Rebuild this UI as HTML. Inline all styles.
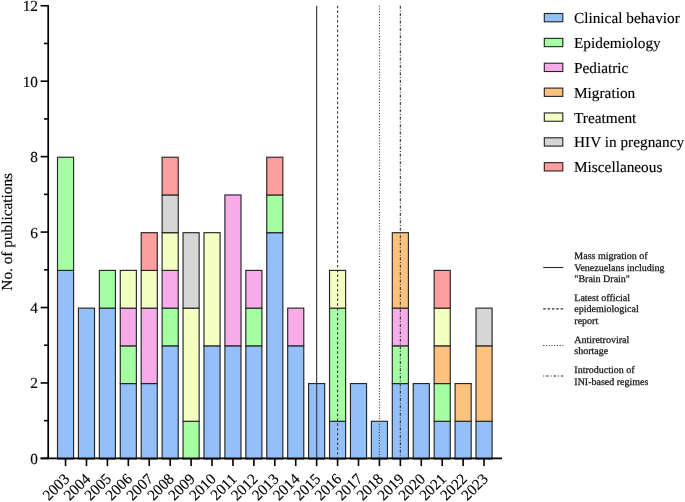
<!DOCTYPE html>
<html><head><meta charset="utf-8"><style>
html,body{margin:0;padding:0;background:#fff;width:685px;height:502px;overflow:hidden}
svg{display:block;will-change:transform}
.t15{font-family:"Liberation Serif",serif;font-size:15.3px;fill:#000;stroke:#000;stroke-width:0.15px}
text{text-rendering:geometricPrecision}
.t10{font-family:"Liberation Serif",serif;font-size:10px;fill:#111;stroke:#111;stroke-width:0.25px}
</style></head><body>
<svg width="685" height="502" viewBox="0 0 685 502">
<rect x="57.50" y="270.40" width="16.10" height="188.60" fill="#93C0F8" stroke="#262626" stroke-width="1.15"/>
<rect x="57.50" y="157.24" width="16.10" height="113.16" fill="#A6FEA3" stroke="#262626" stroke-width="1.15"/>
<rect x="78.42" y="308.12" width="16.10" height="150.88" fill="#93C0F8" stroke="#262626" stroke-width="1.15"/>
<rect x="99.35" y="308.12" width="16.10" height="150.88" fill="#93C0F8" stroke="#262626" stroke-width="1.15"/>
<rect x="99.35" y="270.40" width="16.10" height="37.72" fill="#A6FEA3" stroke="#262626" stroke-width="1.15"/>
<rect x="120.27" y="383.56" width="16.10" height="75.44" fill="#93C0F8" stroke="#262626" stroke-width="1.15"/>
<rect x="120.27" y="345.84" width="16.10" height="37.72" fill="#A6FEA3" stroke="#262626" stroke-width="1.15"/>
<rect x="120.27" y="308.12" width="16.10" height="37.72" fill="#F7ACE9" stroke="#262626" stroke-width="1.15"/>
<rect x="120.27" y="270.40" width="16.10" height="37.72" fill="#F4FFC2" stroke="#262626" stroke-width="1.15"/>
<rect x="141.20" y="383.56" width="16.10" height="75.44" fill="#93C0F8" stroke="#262626" stroke-width="1.15"/>
<rect x="141.20" y="308.12" width="16.10" height="75.44" fill="#F7ACE9" stroke="#262626" stroke-width="1.15"/>
<rect x="141.20" y="270.40" width="16.10" height="37.72" fill="#F4FFC2" stroke="#262626" stroke-width="1.15"/>
<rect x="141.20" y="232.68" width="16.10" height="37.72" fill="#FF9E9E" stroke="#262626" stroke-width="1.15"/>
<rect x="162.12" y="345.84" width="16.10" height="113.16" fill="#93C0F8" stroke="#262626" stroke-width="1.15"/>
<rect x="162.12" y="308.12" width="16.10" height="37.72" fill="#A6FEA3" stroke="#262626" stroke-width="1.15"/>
<rect x="162.12" y="270.40" width="16.10" height="37.72" fill="#F7ACE9" stroke="#262626" stroke-width="1.15"/>
<rect x="162.12" y="232.68" width="16.10" height="37.72" fill="#F4FFC2" stroke="#262626" stroke-width="1.15"/>
<rect x="162.12" y="194.96" width="16.10" height="37.72" fill="#D6D6D6" stroke="#262626" stroke-width="1.15"/>
<rect x="162.12" y="157.24" width="16.10" height="37.72" fill="#FF9E9E" stroke="#262626" stroke-width="1.15"/>
<rect x="183.05" y="421.28" width="16.10" height="37.72" fill="#A6FEA3" stroke="#262626" stroke-width="1.15"/>
<rect x="183.05" y="308.12" width="16.10" height="113.16" fill="#F4FFC2" stroke="#262626" stroke-width="1.15"/>
<rect x="183.05" y="232.68" width="16.10" height="75.44" fill="#D6D6D6" stroke="#262626" stroke-width="1.15"/>
<rect x="203.97" y="345.84" width="16.10" height="113.16" fill="#93C0F8" stroke="#262626" stroke-width="1.15"/>
<rect x="203.97" y="232.68" width="16.10" height="113.16" fill="#F4FFC2" stroke="#262626" stroke-width="1.15"/>
<rect x="224.90" y="345.84" width="16.10" height="113.16" fill="#93C0F8" stroke="#262626" stroke-width="1.15"/>
<rect x="224.90" y="194.96" width="16.10" height="150.88" fill="#F7ACE9" stroke="#262626" stroke-width="1.15"/>
<rect x="245.82" y="345.84" width="16.10" height="113.16" fill="#93C0F8" stroke="#262626" stroke-width="1.15"/>
<rect x="245.82" y="308.12" width="16.10" height="37.72" fill="#A6FEA3" stroke="#262626" stroke-width="1.15"/>
<rect x="245.82" y="270.40" width="16.10" height="37.72" fill="#F7ACE9" stroke="#262626" stroke-width="1.15"/>
<rect x="266.75" y="232.68" width="16.10" height="226.32" fill="#93C0F8" stroke="#262626" stroke-width="1.15"/>
<rect x="266.75" y="194.96" width="16.10" height="37.72" fill="#A6FEA3" stroke="#262626" stroke-width="1.15"/>
<rect x="266.75" y="157.24" width="16.10" height="37.72" fill="#FF9E9E" stroke="#262626" stroke-width="1.15"/>
<rect x="287.68" y="345.84" width="16.10" height="113.16" fill="#93C0F8" stroke="#262626" stroke-width="1.15"/>
<rect x="287.68" y="308.12" width="16.10" height="37.72" fill="#F7ACE9" stroke="#262626" stroke-width="1.15"/>
<rect x="308.60" y="383.56" width="16.10" height="75.44" fill="#93C0F8" stroke="#262626" stroke-width="1.15"/>
<rect x="329.53" y="421.28" width="16.10" height="37.72" fill="#93C0F8" stroke="#262626" stroke-width="1.15"/>
<rect x="329.53" y="308.12" width="16.10" height="113.16" fill="#A6FEA3" stroke="#262626" stroke-width="1.15"/>
<rect x="329.53" y="270.40" width="16.10" height="37.72" fill="#F4FFC2" stroke="#262626" stroke-width="1.15"/>
<rect x="350.45" y="383.56" width="16.10" height="75.44" fill="#93C0F8" stroke="#262626" stroke-width="1.15"/>
<rect x="371.38" y="421.28" width="16.10" height="37.72" fill="#93C0F8" stroke="#262626" stroke-width="1.15"/>
<rect x="392.30" y="383.56" width="16.10" height="75.44" fill="#93C0F8" stroke="#262626" stroke-width="1.15"/>
<rect x="392.30" y="345.84" width="16.10" height="37.72" fill="#A6FEA3" stroke="#262626" stroke-width="1.15"/>
<rect x="392.30" y="308.12" width="16.10" height="37.72" fill="#F7ACE9" stroke="#262626" stroke-width="1.15"/>
<rect x="392.30" y="232.68" width="16.10" height="75.44" fill="#FFC27E" stroke="#262626" stroke-width="1.15"/>
<rect x="413.23" y="383.56" width="16.10" height="75.44" fill="#93C0F8" stroke="#262626" stroke-width="1.15"/>
<rect x="434.15" y="421.28" width="16.10" height="37.72" fill="#93C0F8" stroke="#262626" stroke-width="1.15"/>
<rect x="434.15" y="383.56" width="16.10" height="37.72" fill="#A6FEA3" stroke="#262626" stroke-width="1.15"/>
<rect x="434.15" y="345.84" width="16.10" height="37.72" fill="#FFC27E" stroke="#262626" stroke-width="1.15"/>
<rect x="434.15" y="308.12" width="16.10" height="37.72" fill="#F4FFC2" stroke="#262626" stroke-width="1.15"/>
<rect x="434.15" y="270.40" width="16.10" height="37.72" fill="#FF9E9E" stroke="#262626" stroke-width="1.15"/>
<rect x="455.08" y="421.28" width="16.10" height="37.72" fill="#93C0F8" stroke="#262626" stroke-width="1.15"/>
<rect x="455.08" y="383.56" width="16.10" height="37.72" fill="#FFC27E" stroke="#262626" stroke-width="1.15"/>
<rect x="476.00" y="421.28" width="16.10" height="37.72" fill="#93C0F8" stroke="#262626" stroke-width="1.15"/>
<rect x="476.00" y="345.84" width="16.10" height="75.44" fill="#FFC27E" stroke="#262626" stroke-width="1.15"/>
<rect x="476.00" y="308.12" width="16.10" height="37.72" fill="#D6D6D6" stroke="#262626" stroke-width="1.15"/>
<line x1="316.65" y1="5.76" x2="316.65" y2="458.40" stroke="#3c3c3c" stroke-width="1.15"/>
<line x1="337.58" y1="5.76" x2="337.58" y2="458.40" stroke="#3c3c3c" stroke-width="1.15" stroke-dasharray="2.4 2.4"/>
<line x1="379.43" y1="5.76" x2="379.43" y2="458.40" stroke="#3c3c3c" stroke-width="1.15" stroke-dasharray="1 1.75"/>
<line x1="400.35" y1="5.76" x2="400.35" y2="458.40" stroke="#3c3c3c" stroke-width="1.15" stroke-dasharray="3 1.7 1 1.7"/>
<line x1="48.20" y1="4.96" x2="48.20" y2="459.20" stroke="#000" stroke-width="1.7"/>
<line x1="40.6" y1="458.40" x2="502" y2="458.40" stroke="#000" stroke-width="1.7"/>
<line x1="40.6" y1="458.40" x2="48.20" y2="458.40" stroke="#000" stroke-width="1.6"/>
<text x="38" y="463.90" text-anchor="end" class="t15">0</text>
<line x1="44.0" y1="420.68" x2="48.20" y2="420.68" stroke="#000" stroke-width="1.6"/>
<line x1="40.6" y1="382.96" x2="48.20" y2="382.96" stroke="#000" stroke-width="1.6"/>
<text x="38" y="388.46" text-anchor="end" class="t15">2</text>
<line x1="44.0" y1="345.24" x2="48.20" y2="345.24" stroke="#000" stroke-width="1.6"/>
<line x1="40.6" y1="307.52" x2="48.20" y2="307.52" stroke="#000" stroke-width="1.6"/>
<text x="38" y="313.02" text-anchor="end" class="t15">4</text>
<line x1="44.0" y1="269.80" x2="48.20" y2="269.80" stroke="#000" stroke-width="1.6"/>
<line x1="40.6" y1="232.08" x2="48.20" y2="232.08" stroke="#000" stroke-width="1.6"/>
<text x="38" y="237.58" text-anchor="end" class="t15">6</text>
<line x1="44.0" y1="194.36" x2="48.20" y2="194.36" stroke="#000" stroke-width="1.6"/>
<line x1="40.6" y1="156.64" x2="48.20" y2="156.64" stroke="#000" stroke-width="1.6"/>
<text x="38" y="162.14" text-anchor="end" class="t15">8</text>
<line x1="44.0" y1="118.92" x2="48.20" y2="118.92" stroke="#000" stroke-width="1.6"/>
<line x1="40.6" y1="81.20" x2="48.20" y2="81.20" stroke="#000" stroke-width="1.6"/>
<text x="38" y="86.70" text-anchor="end" class="t15">10</text>
<line x1="44.0" y1="43.48" x2="48.20" y2="43.48" stroke="#000" stroke-width="1.6"/>
<line x1="40.6" y1="5.76" x2="48.20" y2="5.76" stroke="#000" stroke-width="1.6"/>
<text x="38" y="11.26" text-anchor="end" class="t15">12</text>
<line x1="65.55" y1="458.40" x2="65.55" y2="466.1" stroke="#000" stroke-width="1.6"/>
<text class="t15" text-anchor="end" transform="translate(66.85,476.2) rotate(-45) translate(0,5)">2003</text>
<line x1="86.47" y1="458.40" x2="86.47" y2="466.1" stroke="#000" stroke-width="1.6"/>
<text class="t15" text-anchor="end" transform="translate(87.77,476.2) rotate(-45) translate(0,5)">2004</text>
<line x1="107.40" y1="458.40" x2="107.40" y2="466.1" stroke="#000" stroke-width="1.6"/>
<text class="t15" text-anchor="end" transform="translate(108.70,476.2) rotate(-45) translate(0,5)">2005</text>
<line x1="128.32" y1="458.40" x2="128.32" y2="466.1" stroke="#000" stroke-width="1.6"/>
<text class="t15" text-anchor="end" transform="translate(129.62,476.2) rotate(-45) translate(0,5)">2006</text>
<line x1="149.25" y1="458.40" x2="149.25" y2="466.1" stroke="#000" stroke-width="1.6"/>
<text class="t15" text-anchor="end" transform="translate(150.55,476.2) rotate(-45) translate(0,5)">2007</text>
<line x1="170.18" y1="458.40" x2="170.18" y2="466.1" stroke="#000" stroke-width="1.6"/>
<text class="t15" text-anchor="end" transform="translate(171.48,476.2) rotate(-45) translate(0,5)">2008</text>
<line x1="191.10" y1="458.40" x2="191.10" y2="466.1" stroke="#000" stroke-width="1.6"/>
<text class="t15" text-anchor="end" transform="translate(192.40,476.2) rotate(-45) translate(0,5)">2009</text>
<line x1="212.02" y1="458.40" x2="212.02" y2="466.1" stroke="#000" stroke-width="1.6"/>
<text class="t15" text-anchor="end" transform="translate(213.32,476.2) rotate(-45) translate(0,5)">2010</text>
<line x1="232.95" y1="458.40" x2="232.95" y2="466.1" stroke="#000" stroke-width="1.6"/>
<text class="t15" text-anchor="end" transform="translate(234.25,476.2) rotate(-45) translate(0,5)">2011</text>
<line x1="253.88" y1="458.40" x2="253.88" y2="466.1" stroke="#000" stroke-width="1.6"/>
<text class="t15" text-anchor="end" transform="translate(255.18,476.2) rotate(-45) translate(0,5)">2012</text>
<line x1="274.80" y1="458.40" x2="274.80" y2="466.1" stroke="#000" stroke-width="1.6"/>
<text class="t15" text-anchor="end" transform="translate(276.10,476.2) rotate(-45) translate(0,5)">2013</text>
<line x1="295.73" y1="458.40" x2="295.73" y2="466.1" stroke="#000" stroke-width="1.6"/>
<text class="t15" text-anchor="end" transform="translate(297.03,476.2) rotate(-45) translate(0,5)">2014</text>
<line x1="316.65" y1="458.40" x2="316.65" y2="466.1" stroke="#000" stroke-width="1.6"/>
<text class="t15" text-anchor="end" transform="translate(317.95,476.2) rotate(-45) translate(0,5)">2015</text>
<line x1="337.58" y1="458.40" x2="337.58" y2="466.1" stroke="#000" stroke-width="1.6"/>
<text class="t15" text-anchor="end" transform="translate(338.88,476.2) rotate(-45) translate(0,5)">2016</text>
<line x1="358.50" y1="458.40" x2="358.50" y2="466.1" stroke="#000" stroke-width="1.6"/>
<text class="t15" text-anchor="end" transform="translate(359.80,476.2) rotate(-45) translate(0,5)">2017</text>
<line x1="379.43" y1="458.40" x2="379.43" y2="466.1" stroke="#000" stroke-width="1.6"/>
<text class="t15" text-anchor="end" transform="translate(380.73,476.2) rotate(-45) translate(0,5)">2018</text>
<line x1="400.35" y1="458.40" x2="400.35" y2="466.1" stroke="#000" stroke-width="1.6"/>
<text class="t15" text-anchor="end" transform="translate(401.65,476.2) rotate(-45) translate(0,5)">2019</text>
<line x1="421.28" y1="458.40" x2="421.28" y2="466.1" stroke="#000" stroke-width="1.6"/>
<text class="t15" text-anchor="end" transform="translate(422.58,476.2) rotate(-45) translate(0,5)">2020</text>
<line x1="442.20" y1="458.40" x2="442.20" y2="466.1" stroke="#000" stroke-width="1.6"/>
<text class="t15" text-anchor="end" transform="translate(443.50,476.2) rotate(-45) translate(0,5)">2021</text>
<line x1="463.12" y1="458.40" x2="463.12" y2="466.1" stroke="#000" stroke-width="1.6"/>
<text class="t15" text-anchor="end" transform="translate(464.43,476.2) rotate(-45) translate(0,5)">2022</text>
<line x1="484.05" y1="458.40" x2="484.05" y2="466.1" stroke="#000" stroke-width="1.6"/>
<text class="t15" text-anchor="end" transform="translate(485.35,476.2) rotate(-45) translate(0,5)">2023</text>
<text class="t15" text-anchor="middle" transform="translate(12.4,231.8) rotate(-90)">No. of publications</text>
<rect x="544.3" y="13.50" width="18.5" height="8.3" fill="#93C0F8" stroke="#222" stroke-width="1.1"/>
<text x="574" y="23.10" class="t15">Clinical behavior</text>
<rect x="544.3" y="38.36" width="18.5" height="8.3" fill="#A6FEA3" stroke="#222" stroke-width="1.1"/>
<text x="574" y="47.96" class="t15">Epidemiology</text>
<rect x="544.3" y="63.22" width="18.5" height="8.3" fill="#F7ACE9" stroke="#222" stroke-width="1.1"/>
<text x="574" y="72.82" class="t15">Pediatric</text>
<rect x="544.3" y="88.08" width="18.5" height="8.3" fill="#FFC27E" stroke="#222" stroke-width="1.1"/>
<text x="574" y="97.68" class="t15">Migration</text>
<rect x="544.3" y="112.94" width="18.5" height="8.3" fill="#F4FFC2" stroke="#222" stroke-width="1.1"/>
<text x="574" y="122.54" class="t15">Treatment</text>
<rect x="544.3" y="137.80" width="18.5" height="8.3" fill="#D6D6D6" stroke="#222" stroke-width="1.1"/>
<text x="574" y="147.40" class="t15">HIV in pregnancy</text>
<rect x="544.3" y="162.66" width="18.5" height="8.3" fill="#FF9E9E" stroke="#222" stroke-width="1.1"/>
<text x="574" y="172.26" class="t15">Miscellaneous</text>
<line x1="543.2" y1="267.5" x2="563.3" y2="267.5" stroke="#2a2a2a" stroke-width="1.1"/>
<text x="574.3" y="258.95" class="t10">Mass migration of</text>
<text x="574.3" y="270.55" class="t10">Venezuelans including</text>
<text x="574.3" y="282.15" class="t10">"Brain Drain"</text>
<line x1="543.2" y1="308.9" x2="563.3" y2="308.9" stroke="#2a2a2a" stroke-width="1.1" stroke-dasharray="2.5 1.85"/>
<text x="574.3" y="300.60" class="t10">Latest official</text>
<text x="574.3" y="312.20" class="t10">epidemiological</text>
<text x="574.3" y="323.80" class="t10">report</text>
<line x1="543.2" y1="345.45" x2="563.3" y2="345.45" stroke="#2a2a2a" stroke-width="1.1" stroke-dasharray="1 1.75"/>
<text x="574.3" y="342.70" class="t10">Antiretroviral</text>
<text x="574.3" y="354.30" class="t10">shortage</text>
<line x1="543.2" y1="376.05" x2="563.3" y2="376.05" stroke="#2a2a2a" stroke-width="1.1" stroke-dasharray="2.6 1.9 1 1.9" stroke-dashoffset="4.5"/>
<text x="574.3" y="373.30" class="t10">Introduction of</text>
<text x="574.3" y="384.90" class="t10">INI-based regimes</text>
</svg>
</body></html>
